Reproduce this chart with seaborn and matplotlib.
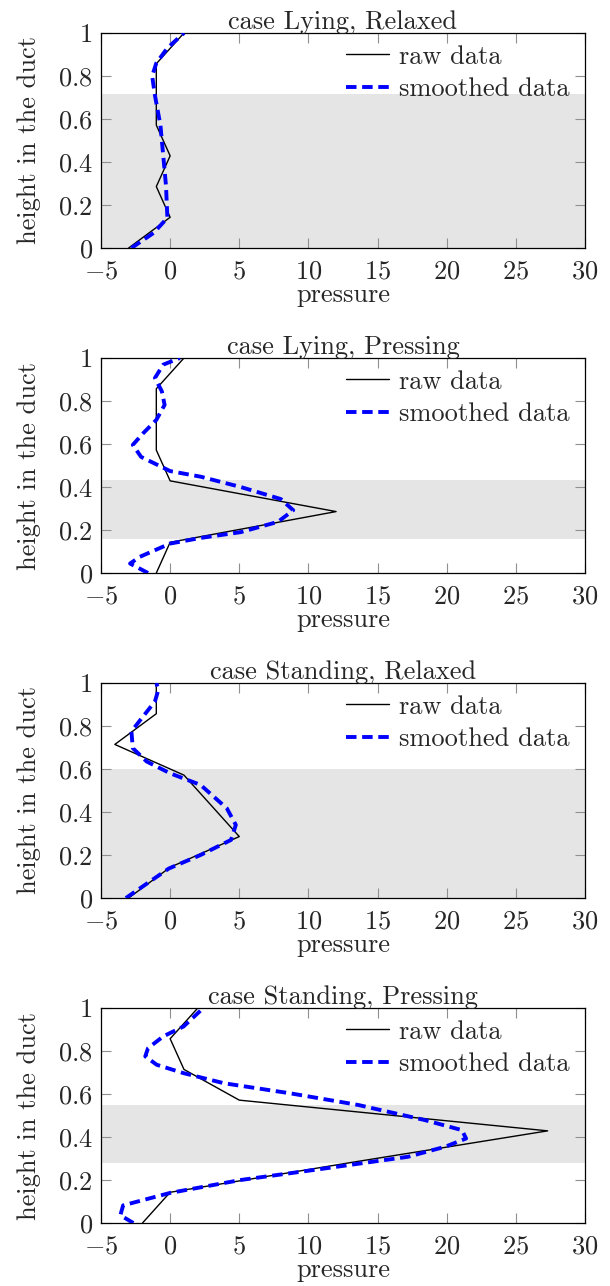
import numpy as np
import pandas as pd
import matplotlib
matplotlib.use("Agg")
import matplotlib.pyplot as plt
import seaborn as sns

sns.set_theme(style="white")
plt.rcParams['font.family'] = ['serif']
plt.rcParams['font.serif'] = ['cmr10', 'DejaVu Serif']
plt.rcParams['mathtext.fontset'] = 'cm'
plt.rcParams['axes.unicode_minus'] = False

titles = ["case Lying, Relaxed", "case Lying, Pressing",
          "case Standing, Relaxed", "case Standing, Pressing"]

raw_height = [0, 1/7, 2/7, 3/7, 4/7, 5/7, 6/7, 1.0]
raw_lying_relaxed = [-3, 0, -1, 0, -1, -1, -1, 1]
raw_lying_pressing = [-1, 0, 12, 0, -1, -1, -1, 1]
raw_standing_relaxed = [-3, 0, 5, 3, 1, -4, -1, -1]
raw_standing_pressing = [-2, 0, 13.5, 27.3, 5, 1, 0, 2]

sm_lr_h = [0.0, 0.07, 0.14, 0.29, 0.43, 0.57, 0.71, 0.80, 0.86, 0.93, 1.0]
sm_lr_p = [-2.8, -1.2, -0.2, -0.3, -0.5, -0.7, -1.1, -1.3, -1.0, -0.2, 1.0]

sm_lp_h = [0.0, 0.044, 0.075, 0.137, 0.163, 0.19, 0.238, 0.292, 0.344, 0.40,
           0.448, 0.474, 0.54, 0.596, 0.65, 0.712, 0.782, 0.845, 0.907, 0.969, 1.0]
sm_lp_p = [-1.6, -2.9, -2.2, 0.0, 2.2, 5.1, 7.8, 8.9, 8.0, 5.1,
           2.2, 0.0, -2.1, -2.7, -1.95, -1.0, -0.4, -0.6, -1.1, -0.5, 0.7]

sm_sr_h = [0.0, 0.137, 0.2, 0.27, 0.34, 0.417, 0.526, 0.58, 0.635, 0.697,
           0.775, 0.845, 0.914, 0.969, 1.0]
sm_sr_p = [-3.2, -0.1, 2.2, 4.4, 4.75, 4.1, 2.2, 0.0, -1.7, -2.7,
           -2.8, -1.95, -1.1, -0.85, -1.0]

sm_sp_h = [0.0, 0.036, 0.082, 0.14, 0.2, 0.253, 0.308, 0.355, 0.393, 0.432,
           0.479, 0.549, 0.603, 0.65, 0.697, 0.736, 0.775, 0.813, 0.868, 0.914, 1.0]
sm_sp_p = [-2.66, -3.6, -3.4, 0.0, 5.1, 11.1, 17.2, 19.9, 21.4, 21.1,
           18.4, 13.6, 8.7, 3.9, 0.97, -0.97, -1.8, -1.6, -0.5, 0.97, 2.4]

band_low = [0.0, 0.16, 0.0, 0.28]
band_high = [0.714, 0.434, 0.60, 0.549]

raws = [raw_lying_relaxed, raw_lying_pressing, raw_standing_relaxed, raw_standing_pressing]
smooths = [(sm_lr_h, sm_lr_p), (sm_lp_h, sm_lp_p), (sm_sr_h, sm_sr_p), (sm_sp_h, sm_sp_p)]

xticks = [-5, 0, 5, 10, 15, 20, 25, 30]
yticks = [0, 0.2, 0.4, 0.6, 0.8, 1]
ytick_labels = ["0", "0.2", "0.4", "0.6", "0.8", "1"]

FS = 19
W, H = 610, 1286
fig = plt.figure(figsize=(W / 100, H / 100), dpi=100)
tops = [33, 358, 683, 1008]
left, right = 101, 585
ah = 215

for i in range(4):
    ax = fig.add_axes([left / W, 1 - (tops[i] + ah) / H, (right - left) / W, ah / H])
    ax.axhspan(band_low[i], band_high[i], color="#e5e5e5", lw=0, zorder=0)
    df_raw = pd.DataFrame({"pressure": raws[i], "height": raw_height})
    sns.lineplot(data=df_raw, x="pressure", y="height", sort=False, estimator=None,
                 color="black", lw=1.0, ax=ax, label="raw data", zorder=3)
    h, p = smooths[i]
    df_sm = pd.DataFrame({"pressure": p, "height": h})
    sns.lineplot(data=df_sm, x="pressure", y="height", sort=False, estimator=None,
                 color="#0000ff", lw=2.8, ax=ax, label="smoothed data", zorder=4,
                 linestyle=(0, (2.7, 1.45)))
    ax.set_xlim(-5, 30)
    ax.set_ylim(0, 1)
    ax.set_xticks(xticks)
    ax.set_xticklabels([f"${v}$" if v >= 0 else f"$-{abs(v)}$" for v in xticks], fontsize=FS)
    ax.set_yticks(yticks)
    ax.set_yticklabels([f"${t}$" for t in ytick_labels], fontsize=FS)
    ax.tick_params(direction="in", length=7.5, width=0.8, color="#909090",
                   top=True, right=True, bottom=True, left=True)
    ax.tick_params(axis="x", pad=8.5)
    ax.tick_params(axis="y", pad=6)
    for s in ax.spines.values():
        s.set_color("black")
        s.set_linewidth(0.9)
    ax.set_title(titles[i], fontsize=FS, pad=3)
    ax.set_xlabel("pressure", fontsize=FS, labelpad=0)
    ax.set_ylabel("height in the duct", fontsize=FS, labelpad=12)
    leg = ax.legend(loc="upper right", bbox_to_anchor=(1 - 4 / 484, 1), frameon=False,
                    fontsize=FS, handlelength=1.63, borderaxespad=0.15, borderpad=0.3,
                    labelspacing=0.33, handletextpad=0.35)

fig.savefig("out.png", dpi=100)
